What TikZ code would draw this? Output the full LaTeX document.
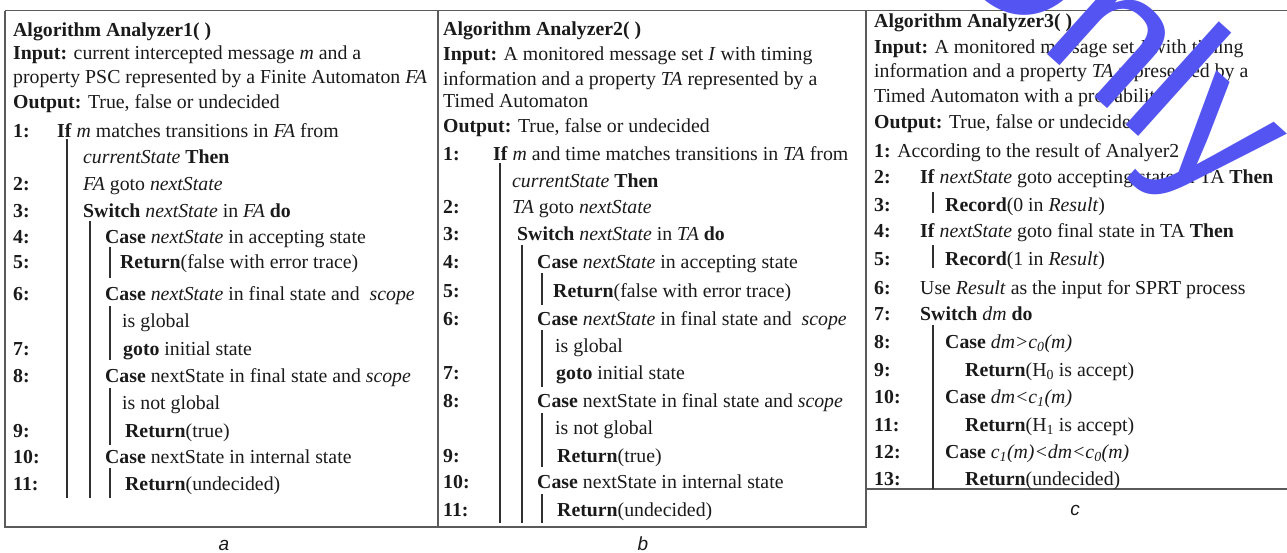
\documentclass[tikz,border=0pt]{standalone}
\usepackage{fontspec}
\setmainfont{Liberation Serif}
\newfontfamily\labelfont{Liberation Sans}
\definecolor{ink}{HTML}{1A1A1A}
\definecolor{framec}{HTML}{5A5A5A}
\definecolor{rulec}{HTML}{303030}
\definecolor{wmblue}{HTML}{5454F2}
\tikzset{
  txt/.style={anchor=base west, inner sep=0pt, text=ink, font=\fontsize{19.8}{22}\selectfont},
  num/.style={txt, font=\bfseries\fontsize{19.8}{22}\selectfont},
  rulel/.style={draw=rulec, line width=1.4pt},
  framel/.style={draw=framec, line width=1.8pt},
  sublabel/.style={anchor=base, inner sep=0pt, text=ink, font=\labelfont\itshape\fontsize{19}{20}\selectfont},
  watermark/.style={anchor=base west, inner sep=0pt, text=wmblue, font=\labelfont\fontsize{192}{192}\selectfont}
}
\begin{document}
\begin{tikzpicture}[x=1pt,y=-1pt]
\useasboundingbox (0,0) rectangle (1287,552);
\fill[white] (0,0) rectangle (1287,552);
% frames
\draw[framel] (5,10.5) -- (1287,10.5);
\draw[framel] (5,10.5) -- (5,527) -- (866,527) -- (866,10.5);
\draw[framel] (438,10.5) -- (438,527);
\draw[framel] (866,489) -- (1287,489);
% ---------------- box a ----------------
\node[txt] (a0) at (13,36) {\textbf{Algorithm Analyzer1( )}};
\node[txt] (a1) at (13,59) {\textbf{Input:} current intercepted message \textit{m} and a};
\node[txt] (a2) at (13,83) {property PSC represented by a Finite Automaton \textit{FA}};
\node[txt] (a3) at (13,108) {\textbf{Output:} True, false or undecided};
\node[num] (an1) at (13,137) {1:};
\node[num] (an2) at (13,190) {2:};
\node[num] (an3) at (13,217) {3:};
\node[num] (an4) at (13,243) {4:};
\node[num] (an5) at (13,268) {5:};
\node[num] (an6) at (13,300) {6:};
\node[num] (an7) at (13,355) {7:};
\node[num] (an8) at (13,382) {8:};
\node[num] (an9) at (13,437) {9:};
\node[num] (an10) at (13,463) {10:};
\node[num] (an11) at (13,490) {11:};
\node[txt] (as1) at (57,137) {\textbf{If} \textit{m} matches transitions in \textit{FA} from};
\node[txt] (as1b) at (83,163) {\textit{currentState} \textbf{Then}};
\node[txt] (as2) at (83,190) {\textit{FA} goto \textit{nextState}};
\node[txt] (as3) at (83,217) {\textbf{Switch} \textit{nextState} in \textit{FA} \textbf{do}};
\node[txt] (as4) at (105,243) {\textbf{Case} \textit{nextState} in accepting state};
\node[txt] (as5) at (120,268) {\textbf{Return}(false with error trace)};
\node[txt] (as6) at (105,300) {\textbf{Case} \textit{nextState} in final state and\ \ \textit{scope}};
\node[txt] (as6b) at (122,327) {is global};
\node[txt] (as7) at (123,355) {\textbf{goto} initial state};
\node[txt] (as8) at (105,382) {\textbf{Case} nextState in final state and \textit{scope}};
\node[txt] (as8b) at (122,409) {is not global};
\node[txt] (as9) at (125,437) {\textbf{Return}(true)};
\node[txt] (as10) at (105,463) {\textbf{Case} nextState in internal state};
\node[txt] (as11) at (125,490) {\textbf{Return}(undecided)};
\draw[rulel] (67,139) -- (67,498);
\draw[rulel] (90,221) -- (90,498);
\draw[rulel] (110,247) -- (110,278);
\draw[rulel] (110,306) -- (110,360);
\draw[rulel] (110,388) -- (110,445);
\draw[rulel] (110,468) -- (110,498);
% ---------------- box b ----------------
\node[txt] (b0) at (443,35) {\textbf{Algorithm Analyzer2( )}};
\node[txt] (b1) at (443,60) {\textbf{Input:} A monitored message set \textit{I} with timing};
\node[txt] (b2) at (443,85) {information and a property \textit{TA} represented by a};
\node[txt] (b2b) at (443,107) {Timed Automaton};
\node[txt] (b3) at (443,132) {\textbf{Output:} True, false or undecided};
\node[num] (bn1) at (443,160) {1:};
\node[num] (bn2) at (443,213) {2:};
\node[num] (bn3) at (443,240) {3:};
\node[num] (bn4) at (443,268) {4:};
\node[num] (bn5) at (443,297) {5:};
\node[num] (bn6) at (443,325) {6:};
\node[num] (bn7) at (443,379) {7:};
\node[num] (bn8) at (443,407) {8:};
\node[num] (bn9) at (443,462) {9:};
\node[num] (bn10) at (443,488) {10:};
\node[num] (bn11) at (443,516) {11:};
\node[txt] (bs1) at (493,160) {\textbf{If} \textit{m} and time matches transitions in \textit{TA} from};
\node[txt] (bs1b) at (512,187) {\textit{currentState} \textbf{Then}};
\node[txt] (bs2) at (512,213) {\textit{TA} goto \textit{nextState}};
\node[txt] (bs3) at (517,240) {\textbf{Switch} \textit{nextState} in \textit{TA} \textbf{do}};
\node[txt] (bs4) at (537,268) {\textbf{Case} \textit{nextState} in accepting state};
\node[txt] (bs5) at (553,297) {\textbf{Return}(false with error trace)};
\node[txt] (bs6) at (537,325) {\textbf{Case} \textit{nextState} in final state and\ \ \textit{scope}};
\node[txt] (bs6b) at (555,352) {is global};
\node[txt] (bs7) at (556,379) {\textbf{goto} initial state};
\node[txt] (bs8) at (537,407) {\textbf{Case} nextState in final state and \textit{scope}};
\node[txt] (bs8b) at (555,434) {is not global};
\node[txt] (bs9) at (557,462) {\textbf{Return}(true)};
\node[txt] (bs10) at (537,488) {\textbf{Case} nextState in internal state};
\node[txt] (bs11) at (557,516) {\textbf{Return}(undecided)};
\draw[rulel] (500,163) -- (500,523);
\draw[rulel] (522,245) -- (522,523);
\draw[rulel] (542,273) -- (542,305);
\draw[rulel] (542,330) -- (542,387);
\draw[rulel] (542,413) -- (542,467);
\draw[rulel] (542,494) -- (542,523);
% ---------------- box c ----------------
\node[txt] (c0) at (874,27) {\textbf{Algorithm Analyzer3( )}};
\node[txt] (c1) at (874,53) {\textbf{Input:} A monitored message set \textit{I} with timing};
\node[txt] (c2) at (874,77) {information and a property \textit{TA} represented by a};
\node[txt] (c2b) at (874,102) {Timed Automaton with a probability};
\node[txt] (c3) at (874,128) {\textbf{Output:} True, false or undecided};
\node[txt] (cs1) at (874,157) {\textbf{1:} According to the result of Analyer2};
\node[num] (cn2) at (874,183) {2:};
\node[num] (cn3) at (874,211) {3:};
\node[num] (cn4) at (874,237) {4:};
\node[num] (cn5) at (874,265) {5:};
\node[num] (cn6) at (874,294) {6:};
\node[num] (cn7) at (874,320) {7:};
\node[num] (cn8) at (874,348) {8:};
\node[num] (cn9) at (874,376) {9:};
\node[num] (cn10) at (874,403) {10:};
\node[num] (cn11) at (874,431) {11:};
\node[num] (cn12) at (874,458) {12:};
\node[num] (cn13) at (874,485) {13:};
\node[txt] (cs2) at (920,183) {\textbf{If} \textit{nextState} goto accepting state in TA \textbf{Then}};
\node[txt] (cs3) at (945,211) {\textbf{Record}(0 in \textit{Result})};
\node[txt] (cs4) at (920,237) {\textbf{If} \textit{nextState} goto final state in TA \textbf{Then}};
\node[txt] (cs5) at (945,265) {\textbf{Record}(1 in \textit{Result})};
\node[txt] (cs6) at (920,294) {Use \textit{Result} as the input for SPRT process};
\node[txt] (cs7) at (920,320) {\textbf{Switch} \textit{dm} \textbf{do}};
\node[txt] (cs8) at (945,348) {\textbf{Case} \textit{dm>c\textsubscript{0}(m)}};
\node[txt] (cs9) at (965,376) {\textbf{Return}(H\textsubscript{0} is accept)};
\node[txt] (cs10) at (945,403) {\textbf{Case} \textit{dm<c\textsubscript{1}(m)}};
\node[txt] (cs11) at (965,431) {\textbf{Return}(H\textsubscript{1} is accept)};
\node[txt] (cs12) at (945,458) {\textbf{Case} \textit{c\textsubscript{1}(m)<dm<c\textsubscript{0}(m)}};
\node[txt] (cs13) at (965,485) {\textbf{Return}(undecided)};
\draw[rulel] (933,192) -- (933,213);
\draw[rulel] (933,245) -- (933,268);
\draw[rulel] (933,325) -- (933,489);
% sub-figure labels
\node[sublabel] (la) at (224,550) {a};
\node[sublabel] (lb) at (643,550) {b};
\node[sublabel] (lc) at (1075,515) {c};
% watermark
\begin{scope}
\clip (0,0) rectangle (1287,552);
\node[watermark, rotate=-42] (wm) at (926,-55) {Only};
\end{scope}
\end{tikzpicture}
\end{document}
